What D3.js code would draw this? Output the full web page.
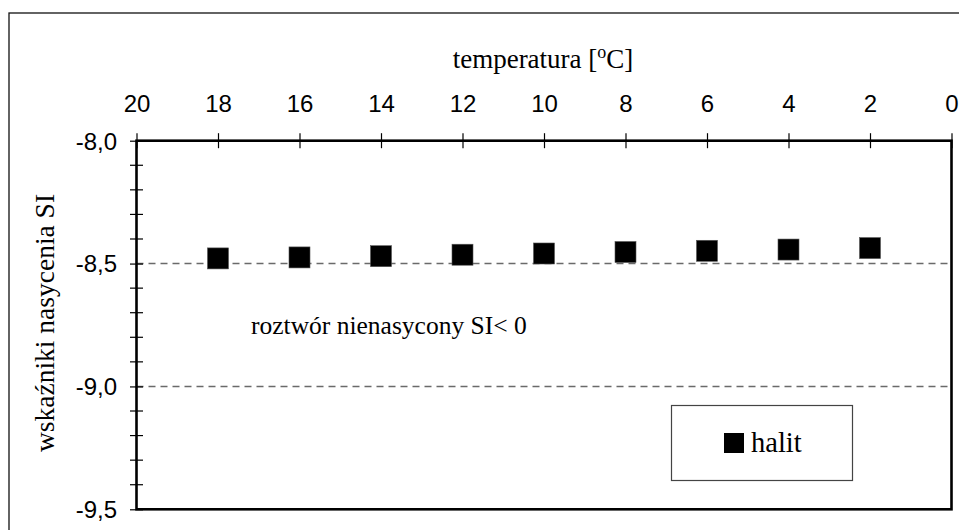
<!DOCTYPE html>
<html>
<head>
<meta charset="utf-8">
<script src="https://cdn.jsdelivr.net/npm/d3@7/dist/d3.min.js"></script>
<style>
  html, body { margin: 0; padding: 0; background: #fff; }
  svg { display: block; }
</style>
</head>
<body>
<svg id="chart" width="959" height="530"></svg>
<script>
// ---- data ----
const temperatures = [18, 16, 14, 12, 10, 8, 6, 4, 2];
const haliteSI = [-8.479, -8.475, -8.470, -8.464, -8.459, -8.453, -8.448, -8.443, -8.437];
const xTicks = [20, 18, 16, 14, 12, 10, 8, 6, 4, 2, 0];
const yMajorTicks = [-8.0, -8.5, -9.0, -9.5];
const yMinorTicks = [-8.1, -8.2, -8.3, -8.4, -8.6, -8.7, -8.8, -8.9, -9.1, -9.2, -9.3, -9.4];
const refLines = [-8.5, -9.0];
const seriesName = "halit";
const xTitle = "temperatura [";
const yTitle = "wskaźniki nasycenia SI";
const annotation = "roztwór nienasycony SI< 0";

// ---- layout ----
const svg = d3.select("#chart");
const L = 136.5, R = 951.5, T = 140.7, B = 509.3;
const x = d3.scaleLinear().domain([20, 0]).range([L, R]);
const y = d3.scaleLinear().domain([-8.0, -9.5]).range([T, B]);
const sans = "Liberation Sans, Arial, sans-serif";
const serif = "Liberation Serif, Times New Roman, serif";

// outer chart border
svg.append("rect").attr("x", 9).attr("y", 13).attr("width", 1000).attr("height", 600)
  .attr("fill", "none").attr("stroke", "#111").attr("stroke-width", 1.3);

// reference dashed lines
svg.selectAll(".ref").data(refLines).enter().append("line")
  .attr("x1", L).attr("x2", R).attr("y1", d => y(d)).attr("y2", d => y(d))
  .attr("stroke", "#6a6a6a").attr("stroke-width", 1.5).attr("stroke-dasharray", "7,5");

// plot frame
svg.append("rect").attr("x", L).attr("y", T).attr("width", R - L).attr("height", B - T)
  .attr("fill", "none").attr("stroke", "#000").attr("stroke-width", 2.6);

// top axis
const xAxis = d3.axisTop(x).tickValues(xTicks).tickSize(0).tickPadding(0).tickFormat(d3.format("d"));
const gx = svg.append("g").attr("transform", `translate(0,${T})`).call(xAxis);
gx.select(".domain").remove();
gx.selectAll(".tick text").remove();
gx.selectAll(".tick").append("line").attr("y1", -7.5).attr("y2", 7.5).attr("stroke", "#000").attr("stroke-width", 1.2);
gx.selectAll(".tick").filter(d => d === 20 || d === 0).select("line").remove();
gx.selectAll(".tick").append("text")
  .attr("y", -28.5).attr("text-anchor", "middle")
  .attr("fill", "#000").style("font-family", sans).style("font-size", "24px")
  .text(d => d3.format("d")(d));

// left axis
const yFmt = d => d.toFixed(1).replace(".", ",");
const yAxis = d3.axisLeft(y).tickValues(yMajorTicks).tickSize(0).tickFormat(yFmt);
const gy = svg.append("g").attr("transform", `translate(${L},0)`).call(yAxis);
gy.select(".domain").remove();
gy.selectAll(".tick text").remove();
gy.selectAll(".tick").append("line").attr("x1", -6.5).attr("x2", 6.5).attr("stroke", "#000").attr("stroke-width", 1.2);
gy.selectAll(".tick").append("text")
  .attr("x", -19.5).attr("dy", "0.35em").attr("text-anchor", "end")
  .attr("fill", "#000").style("font-family", sans).style("font-size", "24px")
  .text(yFmt);
svg.append("g").selectAll("line").data(yMinorTicks).enter().append("line")
  .attr("x1", L - 6.5).attr("x2", L + 6.5).attr("y1", d => y(d)).attr("y2", d => y(d))
  .attr("stroke", "#000").attr("stroke-width", 1.2);

// titles
const xt = svg.append("text").attr("x", 543).attr("y", 68).attr("text-anchor", "middle")
  .style("font-family", serif).style("font-size", "27px").attr("fill", "#000");
xt.append("tspan").text(xTitle);
xt.append("tspan").attr("dy", -10).style("font-size", "18px").text("o");
xt.append("tspan").attr("dy", 10).text("C]");

svg.append("text").attr("transform", `translate(54,${(T + B) / 2 - 2}) rotate(-90)`)
  .attr("text-anchor", "middle").style("font-family", serif).style("font-size", "27.5px")
  .attr("fill", "#000").text(yTitle);

svg.append("text").attr("x", 251).attr("y", 334)
  .style("font-family", serif).style("font-size", "25.5px").attr("fill", "#000").text(annotation);

// data points
const S = 21;
svg.append("g").selectAll("rect").data(temperatures).enter().append("rect")
  .attr("x", d => x(d) - S / 2).attr("y", (d, i) => y(haliteSI[i]) - S / 2)
  .attr("width", S).attr("height", S).attr("fill", "#000")
  .attr("stroke", "#555").attr("stroke-width", 0.6);

// legend
svg.append("rect").attr("x", 671.5).attr("y", 405.5).attr("width", 181).attr("height", 75)
  .attr("fill", "#fff").attr("stroke", "#444").attr("stroke-width", 1.2);
svg.append("rect").attr("x", 724).attr("y", 433).attr("width", 20).attr("height", 20).attr("fill", "#000");
svg.append("text").attr("x", 751).attr("y", 452)
  .style("font-family", serif).style("font-size", "28.5px").attr("fill", "#000").text(seriesName);
</script>
</body>
</html>
